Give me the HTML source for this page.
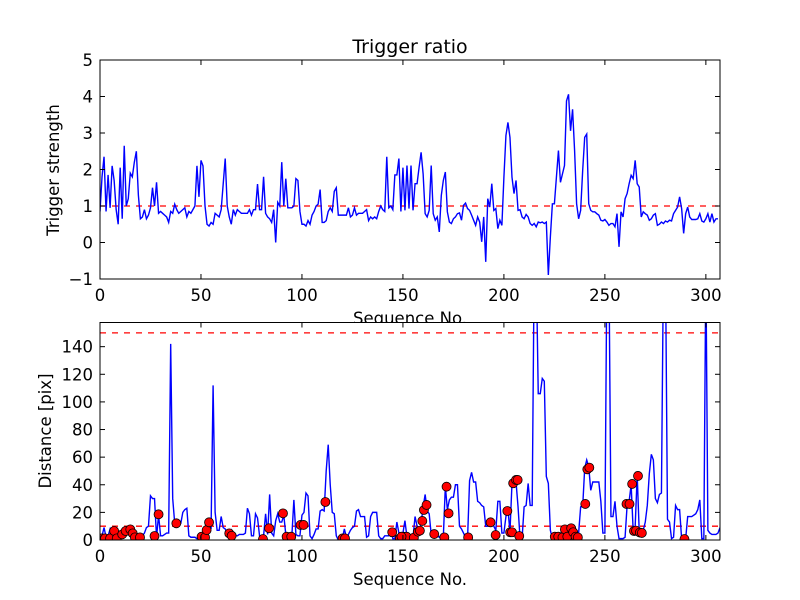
<!DOCTYPE html>
<html><head><meta charset="utf-8"><style>
body{margin:0;background:#fff;}
svg{display:block;font-family:"DejaVu Sans","Liberation Sans",sans-serif;}
</style></head><body>
<svg id="chart" width="800" height="600" viewBox="0 0 800 600">
<rect width="800" height="600" fill="#fff"/>
<defs>
<clipPath id="c1"><rect x="100" y="60" width="620" height="219"/></clipPath>
<clipPath id="c2"><rect x="100" y="322.5" width="620" height="217.5"/></clipPath>
</defs>
<text x="410" y="53" font-size="19" text-anchor="middle">Trigger ratio</text>
<text x="410" y="324" font-size="16.5" text-anchor="middle">Sequence No.</text>
<rect x="100" y="322.5" width="620" height="217.5" fill="#fff"/>
<g id="g1"></g>
<g id="g2"></g>
<text transform="translate(59,170) rotate(-90)" font-size="16.5" text-anchor="middle">Trigger strength</text>
<text transform="translate(51,431) rotate(-90)" font-size="16.5" text-anchor="middle">Distance [pix]</text>
<text x="410" y="585" font-size="16.5" text-anchor="middle">Sequence No.</text>
</svg>
<script>
const xTicks=[0,50,100,150,200,250,300];
const topYTicks=[-1,0,1,2,3,4,5];
const botYTicks=[0,20,40,60,80,100,120,140];
const topThreshold=1;
const botThresholds=[10,150];
const ratio=[0.85,1.8,2.35,0.85,1.85,0.95,2.1,1.7,0.9,0.5,2.05,0.65,2.65,1.0,1.2,1.9,1.8,2.2,2.5,1.3,
0.65,0.7,0.9,0.65,0.75,0.95,1.5,1.0,1.65,0.8,0.85,0.8,0.75,0.7,0.55,0.85,0.8,1.05,0.9,0.8,
0.85,0.9,0.95,0.7,0.85,0.8,0.9,1.0,2.1,1.25,2.25,2.1,1.0,0.5,0.45,0.55,0.5,0.8,0.75,0.7,
0.9,1.6,2.3,1.0,0.7,0.5,0.9,0.75,0.9,0.85,0.8,0.8,0.8,0.8,0.9,0.75,0.9,0.9,1.6,0.9,
0.9,1.8,0.8,0.7,0.65,0.55,0.9,0.0,1.1,1.0,2.2,1.0,1.75,0.95,0.95,0.95,1.0,1.75,1.7,0.85,
0.5,0.5,0.45,0.6,0.5,0.75,0.85,1.0,1.05,1.45,0.55,0.55,0.6,0.85,0.95,0.85,1.4,1.5,0.75,0.75,
0.75,0.75,0.75,0.95,0.7,0.75,0.95,0.75,0.8,0.8,0.8,0.85,0.9,0.6,0.7,0.65,0.7,0.65,0.85,1.0,
0.9,0.85,2.35,0.95,1.0,0.9,1.85,1.85,2.3,0.85,2.05,
0.88,2.11,0.93,2.11,0.88,1.61,1.61,2.06,2.47,1.88,0.79,0.7,0.88,2.11,0.79,0.61,0.7,0.29,1.29,
1.7,1.93,0.84,0.56,0.52,0.65,0.7,0.79,0.81,0.61,1.02,1.08,0.93,0.88,0.75,0.61,0.47,0.7,0.56,0.02,
0.7,-0.53,1.2,0.97,1.61,0.88,0.93,0.38,0.61,0.47,1.79,2.93,3.29,2.88,1.79,1.34,1.7,0.88,0.9,0.7,
0.65,0.77,0.7,0.52,0.47,0.52,0.43,0.56,0.54,0.56,0.52,0.56,-0.89,0.15,1.06,1.06,1.79,2.52,1.65,1.88,
2.11,3.88,4.06,3.06,3.65,2.52,1.06,0.65,0.88,1.97,2.88,2.97,1.06,0.88,0.84,0.84,0.79,0.75,0.61,0.59,
0.63,0.56,0.47,0.52,0.52,0.43,0.79,-0.12,0.84,0.7,1.2,1.34,1.61,1.84,1.75,2.25,1.61,1.52,0.7,0.84,
0.79,0.75,0.61,0.65,0.75,0.79,0.47,0.5,0.56,0.52,0.59,0.56,0.61,0.59,0.79,0.88,0.97,1.25,0.93,0.25,
0.79,0.97,0.7,0.63,0.63,0.63,0.65,0.79,0.59,0.56,0.65,0.79,0.56,0.79,0.56,0.65,0.65];
const dist=[3,3,9,2,3,8,4,3,6,3,5,3,6,8,4,3,4,3,2,1,2,3,5,9,10,32,30,30,2,18,
3,3,4,5,5,142,30,12,10,10,12,20,22,23,3,2,2,2,1,2,3,4,3,8,12,8,112,20,7,7,
17,9,8,5,3,7,3,3,3,4,4,4,5,23,19,3,3,19,16,3,3,3,19,4,33,5,3,14,19,13,
13,18,4,2,3,3,29,4,3,3,18,20,34,32,3,1,4,8,8,21,22,21,50,69,40,20,19,3,0,1,
1,8,2,4,7,9,10,21,22,17,17,17,2,3,17,20,20,20,3,1,1,3,3,3,8,1,1,13,
5,5,5,14,2,1,1,2,17,10,6,12,24,33,21,19,4,4,3,3,2,4,2,39,22,29,31,31,40,40,
10,8,5,2,1,43,49,42,42,28,27,25,24,10,10,12,15,10,7,28,28,5,5,17,22,6,41,42,42,24,
1,1,24,25,41,25,25,200,200,106,106,117,115,46,41,7,1,1,1,2,5,4,2,1,1,2,4,5,2,5,
24,24,52,58,53,36,42,42,42,42,28,5,5,200,200,17,17,28,10,1,1,1,2,25,28,40,7,10,47,6,
7,7,13,25,48,62,58,30,27,33,34,200,200,15,13,1,2,25,22,22,1,1,1,17,17,17,18,19,22,29,
1,1,200,7,5,4,4,4,5,9];
const dotIdx=[1,2.5,5,7,8.3,11,12.7,15,16.2,17.3,19.8,27,29,37.8,50.3,52,52.8,54,64,65.2,80.7,83.7,90.6,92.4,94.7,99.3,100.8,111.6,120.1,121.3,144.7,148.5,150.2,151.8,
149.3,155.4,157.4,158.4,159.6,160.4,161.7,165.5,170.5,171.6,172.6,182.3,193.4,195.9,201.7,203.1,204,204.6,206,206.8,207.6,225.2,226.9,229,230.2,231.4,233.3,234.3,235.5,236.6,240.3,241.3,242.3,260.7,262.2,263.5,264.4,265.4,266.4,267.3,268.3,289.4];
const dotVal=[1.2,1.2,1.2,6.5,1.2,4.1,6.5,7.7,4.8,1.9,1.9,2.9,18.6,12.1,2.4,1.9,7.2,12.8,4.8,3.1,0.7,8.5,19.3,2.4,2.4,10.9,10.9,27.5,1.2,1.2,5.6,1.2,2.4,2.4,
2.4,1.7,6.0,6.8,13.8,21.7,25.4,4.3,1.9,38.6,19.3,1.9,12.8,3.6,21.0,5.6,5.6,41.1,43.5,43.5,2.9,2.4,2.4,1.9,7.7,2.4,8.5,5.6,2.4,1.9,26.1,51.2,52.4,26.1,26.1,40.6,6.5,6.8,46.4,5.4,5.1,0.7];

const NS='http://www.w3.org/2000/svg';
const X0=100,X1=720,XMAX=307;
const sx=v=>X0+(X1-X0)*v/XMAX;
const T={top:60,bot:279,min:-1,max:5};
const B={top:322.5,bot:540,min:0,max:157.5};
const sy1=v=>T.bot-(v-T.min)/(T.max-T.min)*(T.bot-T.top);
const sy2=v=>B.bot-(v-B.min)/(B.max-B.min)*(B.bot-B.top);
function mk(tag,attrs,parent){const e=document.createElementNS(NS,tag);for(const k in attrs)e.setAttribute(k,attrs[k]);parent.appendChild(e);return e;}
function axes(g,P,sy,yt,pref){
  const fr=mk('rect',{x:X0,y:P.top,width:X1-X0,height:P.bot-P.top,fill:'none',stroke:'#000','stroke-width':1},g);
  
  
  xTicks.forEach(t=>{const x=sx(t);
    mk('line',{x1:x,x2:x,y1:P.bot,y2:P.bot-5,stroke:'#000'},g);
    mk('line',{x1:x,x2:x,y1:P.top,y2:P.top+5,stroke:'#000'},g);
    const tx=mk('text',{x:x,y:P.bot+22,'font-size':16.5,'text-anchor':'middle'},g);tx.textContent=t;
    
    });
  yt.forEach(t=>{const y=sy(t);
    mk('line',{x1:X0,x2:X0+5,y1:y,y2:y,stroke:'#000'},g);
    mk('line',{x1:X1,x2:X1-5,y1:y,y2:y,stroke:'#000'},g);
    const tx=mk('text',{x:X0-7,y:y+6,'font-size':16.5,'text-anchor':'end'},g);tx.textContent=(t<0?'\u2212'+(-t):t);
    
    });
}
const g1=document.getElementById('g1'),g2=document.getElementById('g2');
const th=mk('line',{x1:X0,x2:X1,y1:sy1(topThreshold),y2:sy1(topThreshold),stroke:'#f00','stroke-dasharray':'6,6','stroke-width':1.3},g1);


const p1=mk('polyline',{points:ratio.map((v,i)=>sx(i)+','+sy1(v)).join(' '),fill:'none',stroke:'#00f','stroke-width':1.4,'clip-path':'url(#c1)'},g1);


axes(g1,T,sy1,topYTicks,'top');
botThresholds.forEach(v=>{const l=mk('line',{x1:X0,x2:X1,y1:sy2(v),y2:sy2(v),stroke:'#f00','stroke-dasharray':'6,6','stroke-width':1.3},g2);
  
  });
const p2=mk('polyline',{points:dist.map((v,i)=>sx(i)+','+sy2(v)).join(' '),fill:'none',stroke:'#00f','stroke-width':1.4,'clip-path':'url(#c2)'},g2);


dotIdx.forEach((d,k)=>{const c=mk('circle',{cx:sx(d),cy:sy2(dotVal[k]),r:4.5,fill:'#f00',stroke:'#000','stroke-width':0.8,'clip-path':'url(#c2)'},g2);
  
  });
axes(g2,B,sy2,botYTicks,'bottom');
</script>
</body></html>
